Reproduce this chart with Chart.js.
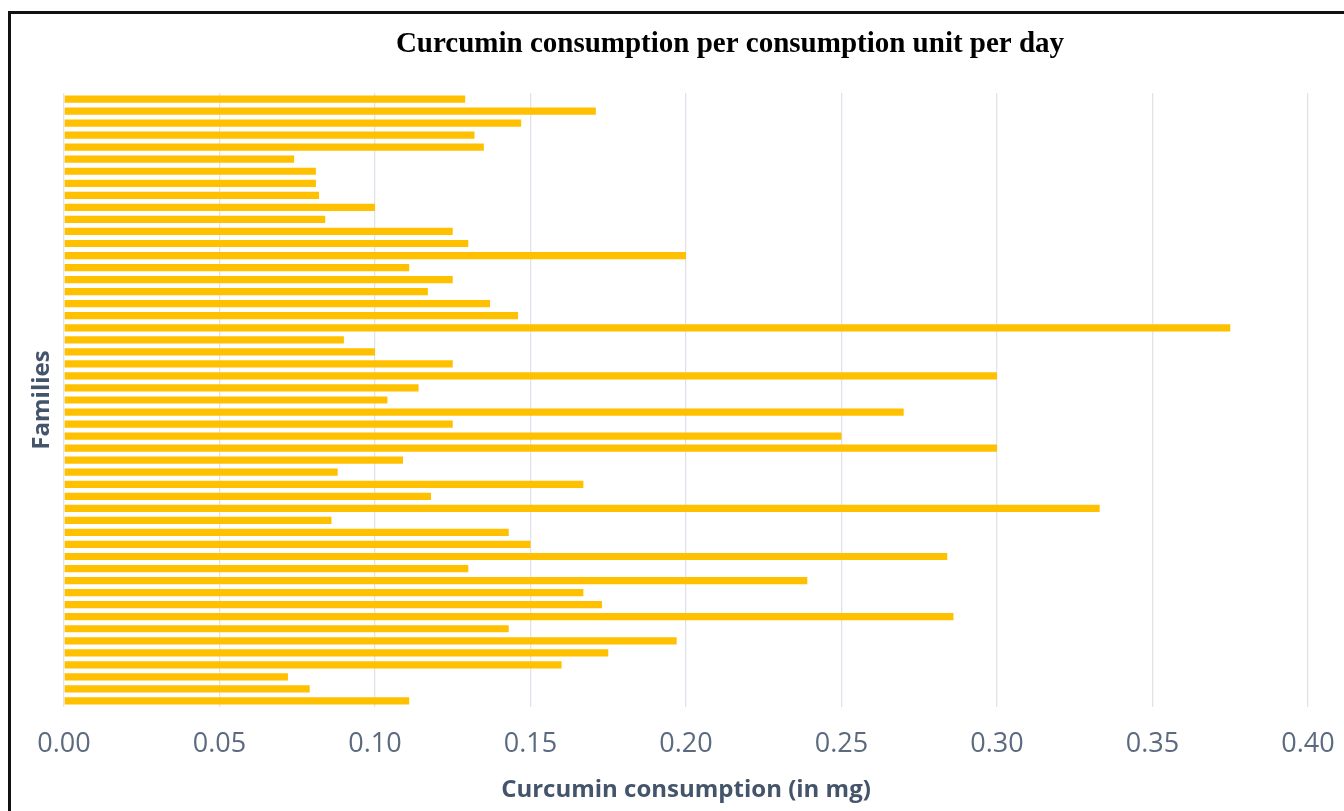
<!DOCTYPE html>
<html>
<head>
<meta charset="utf-8">
<script src="https://cdn.jsdelivr.net/npm/chart.js@4.4.1/dist/chart.umd.min.js"></script>
<style>
  html, body { margin: 0; padding: 0; background: #ffffff; overflow: hidden; }
  #wrap { position: relative; width: 1344px; height: 811px; }
  #frame { position: absolute; left: 8px; top: 11px; width: 1400px; height: 900px;
           border-left: 3px solid #111; border-top: 3px solid #111; box-sizing: border-box; }
  canvas { position: absolute; left: 0; top: 0; }
</style>
</head>
<body>
<div id="wrap">
  <div id="frame"></div>
  <canvas id="c" width="1344" height="811"></canvas>
</div>
<script>
const chartTitle = "Curcumin consumption per consumption unit per day";
const xAxisTitle = "Curcumin consumption (in mg)";
const yAxisTitle = "Families";
const families = Array.from({length: 51}, (_, i) => "Family " + (i + 1));
const consumption = [
  0.129, 0.171, 0.147, 0.132, 0.135, 0.074, 0.081, 0.081, 0.082, 0.100,
  0.084, 0.125, 0.130, 0.200, 0.111, 0.125, 0.117, 0.137, 0.146, 0.375,
  0.090, 0.100, 0.125, 0.300, 0.114, 0.104, 0.270, 0.125, 0.250, 0.300,
  0.109, 0.088, 0.167, 0.118, 0.333, 0.086, 0.143, 0.150, 0.284, 0.130,
  0.239, 0.167, 0.173, 0.286, 0.143, 0.197, 0.175, 0.160, 0.072, 0.079,
  0.111
];
const xMin = 0, xMax = 0.40, xStep = 0.05;

const titlePlugin = {
  id: 'offsetTitle',
  afterDraw(chart) {
    const ctx = chart.ctx;
    const a = chart.chartArea;
    ctx.save();
    ctx.font = "bold 29px 'Liberation Serif', 'Times New Roman', serif";
    ctx.fillStyle = '#000000';
    ctx.textAlign = 'center';
    ctx.textBaseline = 'middle';
    ctx.fillText(chartTitle, (a.left + a.right) / 2 + 44, 45);
    ctx.restore();
  }
};

new Chart(document.getElementById('c'), {
  type: 'bar',
  data: {
    labels: families,
    datasets: [{
      data: consumption,
      backgroundColor: '#FFC000',
      borderWidth: 0,
      categoryPercentage: 1.0,
      barPercentage: 0.6
    }]
  },
  options: {
    indexAxis: 'y',
    responsive: false,
    animation: false,
    layout: { padding: { top: 93, right: 36, left: 0, bottom: 0 } },
    plugins: { legend: { display: false }, tooltip: { enabled: false }, title: { display: false } },
    scales: {
      x: {
        min: xMin, max: xMax,
        ticks: {
          stepSize: xStep,
          padding: 21,
          color: '#5b6a7e',
          font: { family: "'Open Sans', sans-serif", size: 27 },
          callback: v => Number(v).toFixed(2),
          maxRotation: 0
        },
        grid: { color: '#e0e3e9', lineWidth: 1.3, drawTicks: false },
        border: { display: false },
        title: {
          display: true, text: xAxisTitle, color: '#44546A',
          font: { family: "'Open Sans', sans-serif", size: 24, weight: 'bold' },
          padding: { top: 0, bottom: 6 }
        },
        afterFit(scale) { scale.height = 104; scale.paddingLeft = 0; scale.paddingRight = 0; }
      },
      y: {
        ticks: { display: false },
        grid: { display: false, drawTicks: false },
        border: { display: false },
        title: {
          display: true, text: yAxisTitle, color: '#44546A',
          font: { family: "'Open Sans', sans-serif", size: 24, weight: 'bold' },
          padding: { top: 28, bottom: 0 }
        },
        afterFit(scale) { scale.width = 64; scale.paddingTop = 0; scale.paddingBottom = 0; }
      }
    }
  },
  plugins: [titlePlugin]
});
</script>
</body>
</html>
